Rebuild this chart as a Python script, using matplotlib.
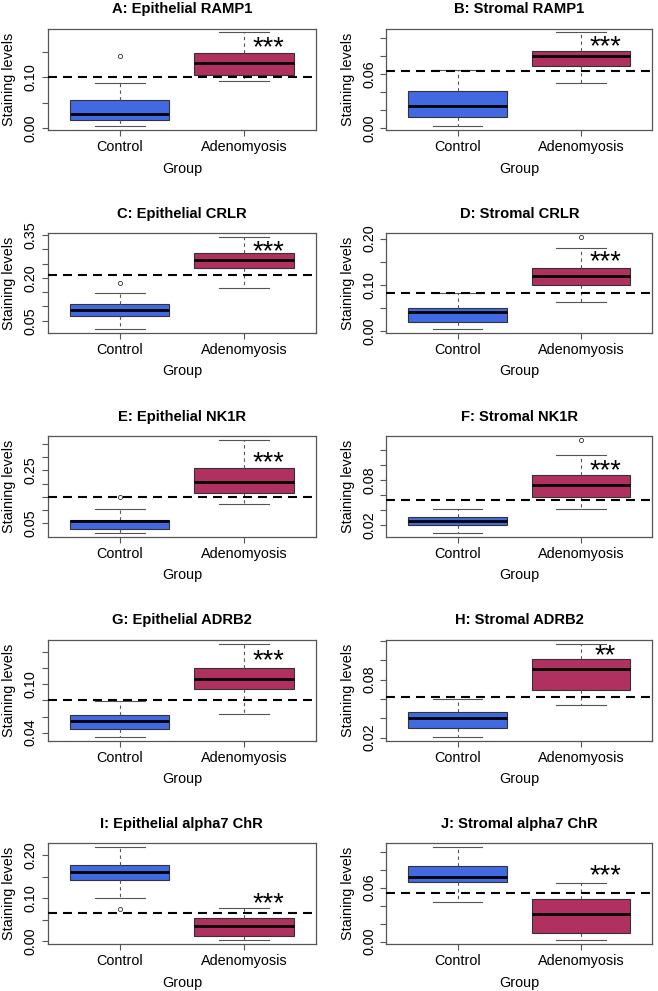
import matplotlib
matplotlib.use("Agg")
import matplotlib.pyplot as plt

# Fonts - Arial-like look of the R graphics device
plt.rcParams['font.family'] = ['Liberation Sans', 'DejaVu Sans']

# DATA
groups = ["Control", "Adenomyosis"]
titles = ["A: Epithelial RAMP1", "B: Stromal RAMP1",
          "C: Epithelial CRLR", "D: Stromal CRLR",
          "E: Epithelial NK1R", "F: Stromal NK1R",
          "G: Epithelial ADRB2", "H: Stromal ADRB2",
          "I: Epithelial alpha7 ChR", "J: Stromal alpha7 ChR"]

# Control group box stats (whisker low, Q1, median, Q3, whisker high)
ctrlLow = [0.0033, 0.0019, 0.0211, 0.0050, 0.0137, 0.0098, 0.0346, 0.0207, 0.0992, 0.0437]
ctrlQ1 = [0.0166, 0.0123, 0.0673, 0.0207, 0.0288, 0.0210, 0.0450, 0.0300, 0.1410, 0.0663]
ctrlMed = [0.0278, 0.0243, 0.0881, 0.0421, 0.0590, 0.0253, 0.0546, 0.0401, 0.1600, 0.0722]
ctrlQ3 = [0.0550, 0.0410, 0.1100, 0.0507, 0.0630, 0.0305, 0.0613, 0.0464, 0.1767, 0.0844]
ctrlHigh = [0.0880, 0.0645, 0.1480, 0.0836, 0.1038, 0.0413, 0.0796, 0.0599, 0.2186, 0.1051]
ctrlOut = [[0.142], [], [0.1817], [], [0.151], [], [], [], [0.0744], []]

# Adenomyosis group box stats
adenoLow = [0.0920, 0.0496, 0.1643, 0.0643, 0.1225, 0.0413, 0.0633, 0.0540, 0.0023, 0.0015]
adenoQ1 = [0.1040, 0.0683, 0.2336, 0.1000, 0.1638, 0.0578, 0.0942, 0.0696, 0.0124, 0.0100]
adenoMed = [0.1280, 0.0800, 0.2637, 0.1200, 0.2050, 0.0729, 0.1067, 0.0915, 0.0364, 0.0303]
adenoQ3 = [0.1490, 0.0850, 0.2879, 0.1370, 0.2575, 0.0867, 0.1204, 0.1009, 0.0550, 0.0477]
adenoHigh = [0.1890, 0.1060, 0.3434, 0.1790, 0.3640, 0.1129, 0.1504, 0.1172, 0.0783, 0.0655]
adenoOut = [[], [], [], [0.2036], [], [0.1333], [], [], [], []]

# Cut-off line and significance marks
cutoff = [0.1006, 0.0636, 0.2094, 0.0829, 0.1510, 0.0533, 0.0804, 0.0623, 0.0667, 0.0540]
stars = ["***", "***", "***", "***", "***", "***", "***", "**", "***", "***"]
starY = [0.1675, 0.0944, 0.3060, 0.1586, 0.2950, 0.0987, 0.1346, 0.1096, 0.0970, 0.0784]

# Y axis ticks and which of them R labelled
yTicks = [[0.00, 0.05, 0.10, 0.15],
          [0.00, 0.02, 0.04, 0.06, 0.08, 0.10],
          [0.05, 0.10, 0.15, 0.20, 0.25, 0.30, 0.35],
          [0.00, 0.05, 0.10, 0.15, 0.20],
          [0.05, 0.10, 0.15, 0.20, 0.25, 0.30, 0.35],
          [0.02, 0.04, 0.06, 0.08, 0.10, 0.12],
          [0.04, 0.06, 0.08, 0.10, 0.12, 0.14],
          [0.02, 0.04, 0.06, 0.08, 0.10, 0.12],
          [0.00, 0.05, 0.10, 0.15, 0.20],
          [0.00, 0.02, 0.04, 0.06, 0.08, 0.10]]
yLabels = [["0.00", "", "0.10", ""],
           ["0.00", "", "", "0.06", "", ""],
           ["0.05", "", "", "0.20", "", "", "0.35"],
           ["0.00", "", "0.10", "", "0.20"],
           ["0.05", "", "", "", "0.25", "", ""],
           ["0.02", "", "", "0.08", "", ""],
           ["0.04", "", "", "0.10", "", ""],
           ["0.02", "", "", "0.08", "", ""],
           ["0.00", "", "0.10", "", "0.20"],
           ["0.00", "", "", "0.06", "", ""]]

boxColors = ["#4169E1", "#B03060"]  # royalblue, maroon

# LAYOUT (pixel positions of each plot frame)
W, H = 658, 991
colLeft = [47.7, 386.3]
colWidth = [268.3, 266.0]
rowTop = [28.7, 233.3, 436.3, 640.0, 843.3]
rowBottom = [130.0, 332.7, 536.7, 740.7, 944.0]

fig = plt.figure(figsize=(W / 100, H / 100), dpi=100)

lineGrey = "#555555"

for i in range(10):
    row = i // 2
    col = i % 2
    ax = fig.add_axes([colLeft[col] / W, 1 - rowBottom[row] / H,
                       colWidth[col] / W, (rowBottom[row] - rowTop[row]) / H])

    # Stats for the two boxes
    stats = [dict(whislo=ctrlLow[i], q1=ctrlQ1[i], med=ctrlMed[i], q3=ctrlQ3[i],
                  whishi=ctrlHigh[i], fliers=ctrlOut[i], label=groups[0]),
             dict(whislo=adenoLow[i], q1=adenoQ1[i], med=adenoMed[i], q3=adenoQ3[i],
                  whishi=adenoHigh[i], fliers=adenoOut[i], label=groups[1])]

    bp = ax.bxp(stats, positions=[1, 2], widths=0.8, capwidths=0.4,
                patch_artist=True, showfliers=True,
                boxprops=dict(edgecolor="#333333", linewidth=0.8),
                medianprops=dict(color="black", linewidth=2.0, solid_capstyle="butt"),
                whiskerprops=dict(color=lineGrey, linewidth=0.8, linestyle=(0, (3, 3))),
                capprops=dict(color=lineGrey, linewidth=0.8),
                flierprops=dict(marker="o", markersize=3, markerfacecolor="none",
                                markeredgecolor="#333333", markeredgewidth=0.6))
    for patch, c in zip(bp['boxes'], boxColors):
        patch.set_facecolor(c)

    # Cut-off line across the plot
    ax.axhline(cutoff[i], color="black", linewidth=1.5, dashes=(4.3, 2.9), zorder=4)

    # Significance stars over the adenomyosis box
    ax.annotate(stars[i], xy=(2.2, starY[i]), xytext=(0, -8.5), textcoords="offset points",
                ha="center", va="baseline", fontsize=19.5, color="black")

    # Axis limits like R (4% extension)
    ax.set_xlim(0.42, 2.58)
    ax.margins(y=0.04)
    ax.autoscale(axis="y")

    ax.set_xticks([1, 2])
    ax.set_xticklabels(groups)
    ax.set_yticks(yTicks[i])
    ax.set_yticklabels(yLabels[i], rotation=90, va="center")
    ax.tick_params(axis="both", direction="out", length=4.3, width=0.8,
                   color=lineGrey, labelsize=10.4, pad=3)
    ax.tick_params(axis="x", pad=2.8)

    for s in ax.spines.values():
        s.set_color(lineGrey)
        s.set_linewidth(0.9)

    ax.set_title(titles[i], fontsize=10.6, fontweight="bold", pad=11.3)
    ax.set_xlabel("Group", fontsize=10.4)
    ax.set_ylabel("Staining levels", fontsize=10.4)
    axH = rowBottom[row] - rowTop[row]
    ax.xaxis.set_label_coords(0.5, -31.7 / axH)
    ax.yaxis.set_label_coords(-31.4 / colWidth[col], 0.5)

fig.savefig("out.png", dpi=100)
